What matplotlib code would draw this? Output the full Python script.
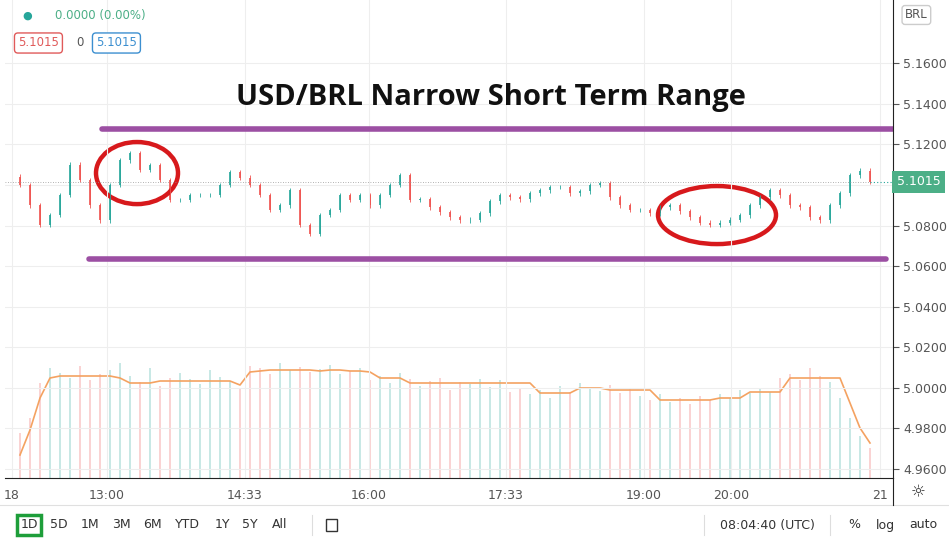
import matplotlib.pyplot as plt
from matplotlib.patches import Ellipse, Rectangle

# close prices, one per bar
closes = [5.1000, 5.0900, 5.0803, 5.0852, 5.0951, 5.1100, 5.1025, 5.0901, 5.0827, 5.1000,
          5.1123, 5.1158, 5.1074, 5.1098, 5.1025, 5.0926, 5.0926, 5.0951, 5.0951, 5.0951,
          5.1000, 5.1064, 5.1035, 5.1000, 5.0951, 5.0877, 5.0901, 5.0975, 5.0803, 5.0760,
          5.0852, 5.0877, 5.0951, 5.0926, 5.0951, 5.0901, 5.0951, 5.1000, 5.1049, 5.0926,
          5.0930, 5.0890, 5.0865, 5.0840, 5.0827, 5.0830, 5.0860, 5.0920, 5.0951, 5.0940,
          5.0930, 5.0960, 5.0975, 5.0990, 5.0990, 5.0960, 5.0970, 5.1000, 5.1010, 5.0940,
          5.0900, 5.0877, 5.0877, 5.0860, 5.0890, 5.0900, 5.0870, 5.0840, 5.0815, 5.0803,
          5.0815, 5.0830, 5.0850, 5.0900, 5.0940, 5.0975, 5.0950, 5.0901, 5.0890, 5.0840,
          5.0827, 5.0900, 5.0960, 5.1049, 5.1070, 5.1015]
first_open = 5.1040
volume = [45, 60, 95, 110, 105, 100, 112, 98, 104, 108, 115, 102, 96, 110, 92, 100, 105, 99, 94, 108,
          101, 97, 90, 112, 110, 104, 115, 108, 111, 106, 109, 113, 104, 107, 110, 98, 102, 95, 105, 99,
          92, 97, 100, 88, 96, 94, 99, 91, 98, 86, 90, 84, 88, 80, 92, 86, 95, 90, 87, 93,
          85, 90, 82, 78, 84, 76, 80, 74, 82, 78, 84, 80, 88, 85, 90, 86, 100, 104, 98, 110,
          102, 96, 80, 60, 42, 30]
vol_ma = [23, 48, 80, 100, 102, 102, 102, 102, 102, 102, 100, 95, 95, 95, 97, 97, 97, 97, 97, 97,
          97, 97, 93, 106, 107, 108, 108, 108, 108, 108, 107, 108, 108, 107, 107, 106, 100, 100, 100, 95,
          95, 95, 95, 95, 95, 95, 95, 95, 95, 95, 95, 95, 85, 85, 85, 85, 90, 90, 90, 88,
          88, 88, 88, 88, 78, 78, 78, 78, 78, 78, 80, 80, 80, 86, 86, 86, 86, 100, 100, 100,
          100, 100, 100, 75, 50, 35]
range_top, range_bottom = 5.1276, 5.0636
price_ticks = [4.96, 4.98, 5.00, 5.02, 5.04, 5.06, 5.08, 5.12, 5.14, 5.16]
grid_prices = [4.96, 4.98, 5.00, 5.02, 5.04, 5.06, 5.08, 5.10, 5.12, 5.14, 5.16]
time_labels = ["18", "13:00", "14:33", "16:00", "17:33", "19:00", "20:00", "21"]
time_pos = [-0.8, 8.7, 22.5, 34.9, 48.6, 62.4, 71.1, 86.0]

W, H = 949, 543
fig = plt.figure(figsize=(W / 100, H / 100), dpi=100)
ax = fig.add_axes([5 / W, (H - 478) / H, 888 / W, 478 / H])
vax = ax.twinx()
vax.set_zorder(0)
ax.set_zorder(1)
ax.patch.set_visible(False)

green, red = "#26a69a", "#ef5350"
n = len(closes)
opens = [first_open] + closes[:-1]
for i in range(n):
    o, c = opens[i], closes[i]
    col = green if c >= o else red
    hi = max(o, c) + 0.0012
    lo = min(o, c) - 0.0012
    ax.vlines(i, lo, hi, color=col, lw=0.7, alpha=0.85)
    ax.add_patch(Rectangle((i - 0.13, min(o, c)), 0.26, max(abs(c - o), 0.0002),
                           color=col, alpha=0.85, lw=0))
    vax.bar(i, volume[i], width=0.22, color=col, alpha=0.25)
vax.plot(range(n), vol_ma, color="#f4a261", lw=1.2)
vax.set_ylim(0, 478)
vax.axis("off")

ax.set_xlim(-1.5, 87.3)
ax.set_ylim(4.9556, 5.1912)
for p in grid_prices:
    ax.axhline(p, color="#eeeeee", lw=0.8, zorder=0)
ax.hlines(closes[-1], n - 1, 87.3, color="#26a69a", lw=0.8, ls=(0, (1, 2)))
ax.hlines(closes[-1], -1.5, n - 1, color="#999999", lw=0.6, ls=(0, (1, 2)))
ax.hlines(range_top, 8.2, 87.3, color="#9c4fa3", lw=4, capstyle="round")
ax.hlines(range_bottom, 6.9, 86.6, color="#9c4fa3", lw=4, capstyle="round")
ax.add_patch(Ellipse((11.7, 5.1059), 8.2, 0.0306, fill=False, ec="#d7191c", lw=3.2))
ax.add_patch(Ellipse((69.7, 5.0852), 11.8, 0.0286, fill=False, ec="#d7191c", lw=3.2))
ax.text(0.547, 0.797, "USD/BRL Narrow Short Term Range", transform=ax.transAxes,
        ha="center", va="center", fontsize=21, fontweight="bold", family="Open Sans", color="#111111")

ax.set_yticks(price_ticks)
ax.set_yticklabels([f"{p:.4f}" for p in price_ticks])
ax.set_xticks(time_pos)
ax.set_xticklabels(time_labels)
ax.yaxis.tick_right()
ax.tick_params(axis="y", colors="#555555", labelsize=9, length=4, labelcolor="#555555")
ax.tick_params(axis="x", colors="#555555", labelsize=9, length=0, pad=8)
ax.grid(axis="x", color="#eeeeee", lw=0.8)
for s in ["top", "left"]:
    ax.spines[s].set_visible(False)
ax.spines["right"].set_color("#222222")
ax.spines["bottom"].set_color("#222222")

ax.text(1.004, (closes[-1] - 4.9556) / (5.1912 - 4.9556), f"{closes[-1]:.4f}", transform=ax.transAxes,
        ha="left", va="center", fontsize=9, color="white",
        bbox=dict(boxstyle="square,pad=0.35", fc="#4caf87", ec="none"))
fig.text(905 / W, 1 - 15 / H, "BRL", fontsize=8.5, color="#555555", va="center",
         bbox=dict(boxstyle="round,pad=0.25", fc="white", ec="#cccccc"))

# header
fig.text(27 / W, 1 - 16 / H, "●", fontsize=8, color="#26a69a", ha="center", va="center")
fig.text(55 / W, 1 - 16 / H, "0.0000 (0.00%)", fontsize=8.5, color="#4caf87", va="center")
fig.text(18 / W, 1 - 43 / H, "5.1015", fontsize=8.5, color="#e05a5a", va="center",
         bbox=dict(boxstyle="round,pad=0.3", fc="white", ec="#e05a5a"))
fig.text(76 / W, 1 - 43 / H, "0", fontsize=8.5, color="#555555", va="center")
fig.text(96 / W, 1 - 43 / H, "5.1015", fontsize=8.5, color="#3c8fd0", va="center",
         bbox=dict(boxstyle="round,pad=0.3", fc="white", ec="#3c8fd0"))

# bottom toolbar
fig.add_artist(plt.Line2D([0, 1], [1 - 505 / H] * 2, color="#e0e0e0", lw=0.8))
fig.add_artist(plt.Line2D([893 / W] * 2, [1 - 505 / H, 1 - 478 / H], color="#222222", lw=0.8))
fig.text(918 / W, 1 - 492 / H, "☼", fontsize=12, color="#333333", ha="center", va="center")
buttons = ["1D", "5D", "1M", "3M", "6M", "YTD", "1Y", "5Y", "All"]
bx = [29, 59, 90, 121, 152, 187, 222, 250, 280]
for lab, x in zip(buttons, bx):
    fig.text(x / W, 1 - 525 / H, lab, fontsize=9, color="#333333", ha="center", va="center",
             bbox=dict(boxstyle="square,pad=0.25", fc="white", ec="#1e9e3a", lw=2.5) if lab == "1D" else None)
fig.add_artist(plt.Line2D([312 / W] * 2, [1 - 515 / H, 1 - 535 / H], color="#dddddd", lw=0.8))
fig.add_artist(Rectangle((326 / W, 1 - 531 / H), 11 / W, 12 / H, fill=False, ec="#333333", lw=1))
fig.add_artist(plt.Line2D([704 / W] * 2, [1 - 515 / H, 1 - 535 / H], color="#dddddd", lw=0.8))
fig.add_artist(plt.Line2D([830 / W] * 2, [1 - 515 / H, 1 - 535 / H], color="#dddddd", lw=0.8))
fig.text(767 / W, 1 - 525 / H, "08:04:40 (UTC)", fontsize=9, color="#333333", ha="center", va="center")
fig.text(854 / W, 1 - 525 / H, "%", fontsize=9, color="#333333", ha="center", va="center")
fig.text(885 / W, 1 - 525 / H, "log", fontsize=9, color="#333333", ha="center", va="center")
fig.text(923 / W, 1 - 525 / H, "auto", fontsize=9, color="#333333", ha="center", va="center")

plt.savefig("out.png", dpi=100)
plt.close(fig)
